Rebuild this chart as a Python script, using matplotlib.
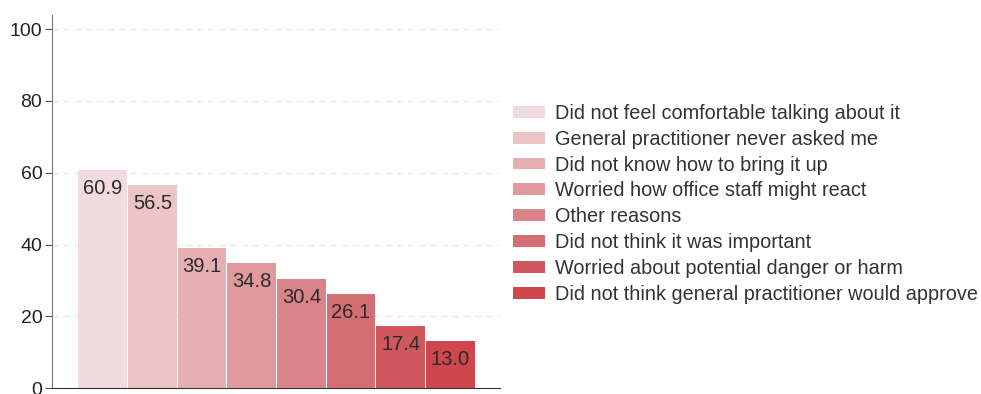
import matplotlib.pyplot as plt

plt.rcParams['font.family'] = ['Liberation Sans', 'DejaVu Sans']

# Datos
reasons = [
    'Did not feel comfortable talking about it',
    'General practitioner never asked me',
    'Did not know how to bring it up',
    'Worried how office staff might react',
    'Other reasons',
    'Did not think it was important',
    'Worried about potential danger or harm',
    'Did not think general practitioner would approve',
]
percent = [60.9, 56.5, 39.1, 34.8, 30.4, 26.1, 17.4, 13.0]
colors = ['#f2dbdc', '#ecc5c7', '#e6b0b3', '#e09a9e', '#da8489', '#d56d74', '#d1575e', '#cf464d']
yticks = [0, 20, 40, 60, 80, 100]

fig = plt.figure(figsize=(9.81, 3.94), dpi=100)
ax = fig.add_axes([0.053, 0.0152, 0.4567, 0.947])

x = list(range(len(percent)))
ax.bar(x, percent, width=0.98, color=colors, label=reasons, zorder=2)

# Etiquetas dentro de las barras
for xi, v in zip(x, percent):
    ax.annotate(f'{v:.1f}', (xi, v), xytext=(0, -6.5), textcoords='offset points',
                ha='center', va='top', fontsize=14.5, color='#2a2a2a', zorder=3)

ax.set_xlim(-1.02, 8.0)
ax.set_ylim(0, 104)
ax.set_yticks(yticks)
ax.set_xticks([])
ax.tick_params(axis='y', labelsize=14, labelcolor='#222222', color='#555555', length=5, pad=2)
ax.grid(axis='y', linestyle=(0, (6, 4)), color='#e6e6e6', linewidth=0.8, zorder=0)

for s in ['top', 'right']:
    ax.spines[s].set_visible(False)
ax.spines['left'].set_color('#777777')
ax.spines['bottom'].set_color('#333333')

fig.legend(loc='upper left', bbox_to_anchor=(0.523, 0.737), frameon=False,
           fontsize=14.3, labelspacing=0.35, handlelength=1.6, handleheight=0.55,
           handletextpad=0.5, borderaxespad=0, borderpad=0, labelcolor='#333333')

plt.savefig('out.png', dpi=100)
